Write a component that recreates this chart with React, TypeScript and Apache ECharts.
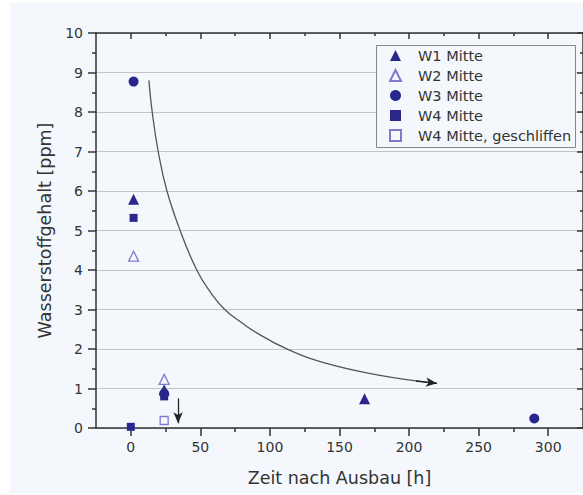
import React, { useEffect, useRef } from "react";
import * as echarts from "echarts";

// ---- data ----
const seriesNames = ["W1 Mitte", "W2 Mitte", "W3 Mitte", "W4 Mitte", "W4 Mitte, geschliffen"];
const w1Mitte: number[][] = [[2, 5.79], [24, 0.97], [168, 0.74]];
const w2Mitte: number[][] = [[2, 4.35], [24, 1.23]];
const w3Mitte: number[][] = [[2, 8.77], [24, 0.87], [290, 0.24]];
const w4Mitte: number[][] = [[2, 5.32], [0, 0.03], [24, 0.8]];
const w4Geschliffen: number[][] = [[24, 0.19]];
// annotation: trend curve and small arrow
const trendCurve: number[][] = [
  [13, 8.8], [15.4, 8.0], [19.7, 7.0], [26, 6.0], [35.5, 5.0], [47.4, 4.0],
  [57, 3.45], [67.5, 3.0], [80, 2.66], [90, 2.42], [111, 2.02], [140, 1.64],
  [178, 1.34], [220, 1.13],
];
const trendArrowHead: number[][] = [[205, 1.19], [220, 1.13]];
const smallArrow: number[][] = [[34, 0.75], [34, 0.12]];
const xMajorTicks = [0, 50, 100, 150, 200, 250, 300];
const xMinorTicks = [25, 75, 125, 175, 225, 275];

const FONT = "DejaVu Sans";
const FILLED = "#2a278c";
const OPEN = "#7d7bcf";
const BG = "#f4f8fc";

export default function App() {
  const ref = useRef<HTMLDivElement>(null);
  useEffect(() => {
    if (!ref.current) return;
    const chart = echarts.init(ref.current, null, { renderer: "svg" });
    const axisLine = { show: true, onZero: false, lineStyle: { color: "#333", width: 1.5 } };
    const noLine = { show: false, onZero: false };
    const xBase = { type: "value" as const, min: -25, max: 325, gridIndex: 0 };
    const yBase = { type: "value" as const, min: 0, max: 10, interval: 1 };
    chart.setOption({
      animation: false,
      graphic: [
        {
          type: "rect",
          z: -10,
          silent: true,
          shape: { x: 10, y: 3, width: 580, height: 490 },
          style: { fill: BG },
        },
        {
          type: "rect",
          z: 4,
          silent: true,
          shape: { x: 376.5, y: 45.5, width: 199, height: 102 },
          style: { fill: BG, stroke: "#888", lineWidth: 1 },
        },
      ],
      grid: { left: 96, right: -5, top: 33, bottom: 67, containLabel: false },
      legend: {
        orient: "vertical",
        left: 389,
        top: 48,
        padding: 0,
        itemGap: 5,
        itemWidth: 11,
        itemHeight: 11,
        z: 5,
        formatter: (name: string) => `{g|}${name}`,
        textStyle: {
          fontFamily: FONT,
          fontSize: 14.5,
          color: "#333",
          rich: { g: { width: 12 } },
        },
        data: seriesNames,
      },
      xAxis: [
        {
          ...xBase,
          position: "bottom",
          axisLine,
          axisTick: { show: true, length: 8, customValues: xMajorTicks, lineStyle: { color: "#333", width: 1.5 } },
          axisLabel: { customValues: xMajorTicks, fontFamily: FONT, fontSize: 14, color: "#333", margin: 12 },
          splitLine: { show: false },
          name: "Zeit nach Ausbau [h]",
          nameLocation: "middle",
          nameGap: 41,
          nameTextStyle: { fontFamily: FONT, fontSize: 17.5, color: "#333" },
        },
        {
          ...xBase,
          position: "bottom",
          axisLine: noLine,
          axisTick: { show: true, length: 4, customValues: xMinorTicks, lineStyle: { color: "#333", width: 1.5 } },
          axisLabel: { show: false },
          splitLine: { show: false },
        },
        {
          ...xBase,
          position: "top",
          axisLine,
          axisTick: { show: true, inside: true, length: 6, customValues: xMajorTicks, lineStyle: { color: "#333", width: 1.5 } },
          axisLabel: { show: false },
          splitLine: { show: false },
        },
        {
          ...xBase,
          position: "top",
          axisLine: noLine,
          axisTick: { show: true, inside: true, length: 3, customValues: xMinorTicks, lineStyle: { color: "#333", width: 1.5 } },
          axisLabel: { show: false },
          splitLine: { show: false },
        },
      ],
      yAxis: [
        {
          ...yBase,
          position: "left",
          axisLine,
          axisTick: { show: true, length: 8, lineStyle: { color: "#333", width: 1.5 } },
          minorTick: { show: true, splitNumber: 2, length: 4, lineStyle: { color: "#333", width: 1.5 } },
          axisLabel: { fontFamily: FONT, fontSize: 14, color: "#333", margin: 13 },
          splitLine: { show: true, lineStyle: { color: "#c4c4c4", width: 1.2 } },
          name: "Wasserstoffgehalt [ppm]",
          nameLocation: "middle",
          nameGap: 37,
          nameTextStyle: { fontFamily: FONT, fontSize: 17.5, color: "#333" },
        },
        {
          ...yBase,
          position: "right",
          axisLine,
          axisTick: { show: true, inside: true, length: 6, lineStyle: { color: "#333", width: 1.5 } },
          minorTick: { show: true, splitNumber: 2, length: 3, lineStyle: { color: "#333", width: 1.5 } },
          axisLabel: { show: false },
          splitLine: { show: false },
        },
      ],
      series: [
        {
          name: "trend",
          type: "line",
          xAxisIndex: 0,
          yAxisIndex: 0,
          data: trendCurve,
          smooth: 0.45,
          symbol: "none",
          lineStyle: { color: "#555", width: 1.3 },
          silent: true,
          z: 1,
          markLine: {
            silent: true,
            symbol: ["none", "arrow"],
            symbolSize: [7, 11],
            label: { show: false },
            lineStyle: { color: "#222", width: 1.3, type: "solid" },
            data: [
              [{ coord: trendArrowHead[0] }, { coord: trendArrowHead[1] }],
              [{ coord: smallArrow[0] }, { coord: smallArrow[1] }],
            ],
          },
        },
        {
          name: seriesNames[0],
          type: "scatter",
          data: w1Mitte,
          symbol: "triangle",
          symbolSize: 11,
          itemStyle: { color: FILLED, opacity: 1 },
          z: 3,
        },
        {
          name: seriesNames[1],
          type: "scatter",
          data: w2Mitte,
          symbol: "triangle",
          symbolSize: 10,
          itemStyle: { color: BG, borderColor: OPEN, borderWidth: 1.3, opacity: 1 },
          z: 3,
        },
        {
          name: seriesNames[2],
          type: "scatter",
          data: w3Mitte,
          symbol: "circle",
          symbolSize: 10,
          itemStyle: { color: FILLED, opacity: 1 },
          z: 3,
        },
        {
          name: seriesNames[3],
          type: "scatter",
          data: w4Mitte,
          symbol: "rect",
          symbolSize: 8,
          itemStyle: { color: FILLED, opacity: 1 },
          z: 3,
        },
        {
          name: seriesNames[4],
          type: "scatter",
          data: w4Geschliffen,
          symbol: "rect",
          symbolSize: 8,
          itemStyle: { color: BG, borderColor: OPEN, borderWidth: 1.3, opacity: 1 },
          z: 3,
        },
      ],
    });
    return () => chart.dispose();
  }, []);
  return (
    <div
      ref={ref}
      style={{ position: "absolute", left: 0, top: 0, width: 583, height: 495 }}
    />
  );
}
